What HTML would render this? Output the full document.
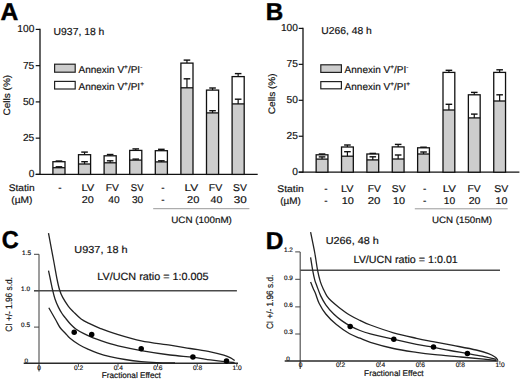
<!DOCTYPE html>
<html><head><meta charset="utf-8"><style>
html,body{margin:0;padding:0;background:#fff;}
svg{display:block;}
text{font-family:"Liberation Sans", sans-serif;fill:#111;text-rendering:geometricPrecision;stroke:#111;stroke-width:0.18px;}
</style></head><body>
<svg width="520" height="379" viewBox="0 0 520 379">
<rect width="520" height="379" fill="#fff"/>
<text x="0.61" y="19.57" font-size="24.5" font-weight="bold" textLength="17.81" lengthAdjust="spacingAndGlyphs" style="stroke:#000;stroke-width:0.45px;fill:#000">A</text>
<text x="265.71" y="19.57" font-size="24.5" font-weight="bold" textLength="17.47" lengthAdjust="spacingAndGlyphs" style="stroke:#000;stroke-width:0.45px;fill:#000">B</text>
<text x="1.66" y="248.18" font-size="24.5" font-weight="bold" textLength="16.95" lengthAdjust="spacingAndGlyphs" style="stroke:#000;stroke-width:0.45px;fill:#000">C</text>
<text x="265.78" y="249.47" font-size="24.5" font-weight="bold" textLength="17.72" lengthAdjust="spacingAndGlyphs" style="stroke:#000;stroke-width:0.45px;fill:#000">D</text>
<line x1="40.00" y1="28.80" x2="40.00" y2="175.00" stroke="#111" stroke-width="1.3"/>
<line x1="35.70" y1="174.40" x2="40.00" y2="174.40" stroke="#111" stroke-width="1.2"/>
<text x="34.30" y="177.40" font-size="10.2" text-anchor="end" font-weight="normal" >0</text>
<line x1="35.70" y1="138.15" x2="40.00" y2="138.15" stroke="#111" stroke-width="1.2"/>
<text x="34.30" y="141.15" font-size="10.2" text-anchor="end" font-weight="normal" >25</text>
<line x1="35.70" y1="101.90" x2="40.00" y2="101.90" stroke="#111" stroke-width="1.2"/>
<text x="34.30" y="104.90" font-size="10.2" text-anchor="end" font-weight="normal" >50</text>
<line x1="35.70" y1="65.65" x2="40.00" y2="65.65" stroke="#111" stroke-width="1.2"/>
<text x="34.30" y="68.65" font-size="10.2" text-anchor="end" font-weight="normal" >75</text>
<line x1="35.70" y1="29.40" x2="40.00" y2="29.40" stroke="#111" stroke-width="1.2"/>
<text x="34.30" y="32.40" font-size="10.2" text-anchor="end" font-weight="normal" >100</text>
<line x1="35.70" y1="174.40" x2="257.70" y2="174.40" stroke="#111" stroke-width="1.3"/>
<rect x="52.90" y="167.70" width="12.10" height="6.70" fill="#cdcdcd"/>
<rect x="52.90" y="161.70" width="12.10" height="12.70" fill="none" stroke="#111" stroke-width="1.3"/>
<line x1="52.90" y1="167.70" x2="65.00" y2="167.70" stroke="#111" stroke-width="1.3"/>
<line x1="58.95" y1="161.70" x2="58.95" y2="161.00" stroke="#111" stroke-width="1.2"/>
<line x1="55.65" y1="161.00" x2="62.25" y2="161.00" stroke="#111" stroke-width="1.4"/>
<line x1="58.95" y1="167.70" x2="58.95" y2="166.80" stroke="#111" stroke-width="1.2"/>
<line x1="55.65" y1="166.80" x2="62.25" y2="166.80" stroke="#111" stroke-width="1.4"/>
<rect x="78.50" y="164.00" width="12.10" height="10.40" fill="#cdcdcd"/>
<rect x="78.50" y="154.70" width="12.10" height="19.70" fill="none" stroke="#111" stroke-width="1.3"/>
<line x1="78.50" y1="164.00" x2="90.60" y2="164.00" stroke="#111" stroke-width="1.3"/>
<line x1="84.55" y1="154.70" x2="84.55" y2="152.10" stroke="#111" stroke-width="1.2"/>
<line x1="81.25" y1="152.10" x2="87.85" y2="152.10" stroke="#111" stroke-width="1.4"/>
<line x1="84.55" y1="164.00" x2="84.55" y2="161.70" stroke="#111" stroke-width="1.2"/>
<line x1="81.25" y1="161.70" x2="87.85" y2="161.70" stroke="#111" stroke-width="1.4"/>
<rect x="104.10" y="162.80" width="12.10" height="11.60" fill="#cdcdcd"/>
<rect x="104.10" y="155.80" width="12.10" height="18.60" fill="none" stroke="#111" stroke-width="1.3"/>
<line x1="104.10" y1="162.80" x2="116.20" y2="162.80" stroke="#111" stroke-width="1.3"/>
<line x1="110.15" y1="155.80" x2="110.15" y2="154.50" stroke="#111" stroke-width="1.2"/>
<line x1="106.85" y1="154.50" x2="113.45" y2="154.50" stroke="#111" stroke-width="1.4"/>
<line x1="110.15" y1="162.80" x2="110.15" y2="160.80" stroke="#111" stroke-width="1.2"/>
<line x1="106.85" y1="160.80" x2="113.45" y2="160.80" stroke="#111" stroke-width="1.4"/>
<rect x="129.70" y="160.10" width="12.10" height="14.30" fill="#cdcdcd"/>
<rect x="129.70" y="150.40" width="12.10" height="24.00" fill="none" stroke="#111" stroke-width="1.3"/>
<line x1="129.70" y1="160.10" x2="141.80" y2="160.10" stroke="#111" stroke-width="1.3"/>
<line x1="135.75" y1="150.40" x2="135.75" y2="148.90" stroke="#111" stroke-width="1.2"/>
<line x1="132.45" y1="148.90" x2="139.05" y2="148.90" stroke="#111" stroke-width="1.4"/>
<line x1="135.75" y1="160.10" x2="135.75" y2="159.10" stroke="#111" stroke-width="1.2"/>
<line x1="132.45" y1="159.10" x2="139.05" y2="159.10" stroke="#111" stroke-width="1.4"/>
<rect x="155.30" y="161.90" width="12.10" height="12.50" fill="#cdcdcd"/>
<rect x="155.30" y="150.70" width="12.10" height="23.70" fill="none" stroke="#111" stroke-width="1.3"/>
<line x1="155.30" y1="161.90" x2="167.40" y2="161.90" stroke="#111" stroke-width="1.3"/>
<line x1="161.35" y1="150.70" x2="161.35" y2="149.30" stroke="#111" stroke-width="1.2"/>
<line x1="158.05" y1="149.30" x2="164.65" y2="149.30" stroke="#111" stroke-width="1.4"/>
<line x1="161.35" y1="161.90" x2="161.35" y2="160.80" stroke="#111" stroke-width="1.2"/>
<line x1="158.05" y1="160.80" x2="164.65" y2="160.80" stroke="#111" stroke-width="1.4"/>
<rect x="180.90" y="87.80" width="12.10" height="86.60" fill="#cdcdcd"/>
<rect x="180.90" y="63.10" width="12.10" height="111.30" fill="none" stroke="#111" stroke-width="1.3"/>
<line x1="180.90" y1="87.80" x2="193.00" y2="87.80" stroke="#111" stroke-width="1.3"/>
<line x1="186.95" y1="63.10" x2="186.95" y2="60.10" stroke="#111" stroke-width="1.2"/>
<line x1="183.65" y1="60.10" x2="190.25" y2="60.10" stroke="#111" stroke-width="1.4"/>
<line x1="186.95" y1="87.80" x2="186.95" y2="78.80" stroke="#111" stroke-width="1.2"/>
<line x1="183.65" y1="78.80" x2="190.25" y2="78.80" stroke="#111" stroke-width="1.4"/>
<rect x="206.50" y="112.90" width="12.10" height="61.50" fill="#cdcdcd"/>
<rect x="206.50" y="90.10" width="12.10" height="84.30" fill="none" stroke="#111" stroke-width="1.3"/>
<line x1="206.50" y1="112.90" x2="218.60" y2="112.90" stroke="#111" stroke-width="1.3"/>
<line x1="212.55" y1="90.10" x2="212.55" y2="88.00" stroke="#111" stroke-width="1.2"/>
<line x1="209.25" y1="88.00" x2="215.85" y2="88.00" stroke="#111" stroke-width="1.4"/>
<line x1="212.55" y1="112.90" x2="212.55" y2="110.70" stroke="#111" stroke-width="1.2"/>
<line x1="209.25" y1="110.70" x2="215.85" y2="110.70" stroke="#111" stroke-width="1.4"/>
<rect x="232.10" y="103.90" width="12.10" height="70.50" fill="#cdcdcd"/>
<rect x="232.10" y="76.60" width="12.10" height="97.80" fill="none" stroke="#111" stroke-width="1.3"/>
<line x1="232.10" y1="103.90" x2="244.20" y2="103.90" stroke="#111" stroke-width="1.3"/>
<line x1="238.15" y1="76.60" x2="238.15" y2="73.60" stroke="#111" stroke-width="1.2"/>
<line x1="234.85" y1="73.60" x2="241.45" y2="73.60" stroke="#111" stroke-width="1.4"/>
<line x1="238.15" y1="103.90" x2="238.15" y2="99.20" stroke="#111" stroke-width="1.2"/>
<line x1="234.85" y1="99.20" x2="241.45" y2="99.20" stroke="#111" stroke-width="1.4"/>
<text x="53.60" y="34.70" font-size="10.2" font-weight="normal" textLength="50.77" lengthAdjust="spacingAndGlyphs">U937, 18 h</text>
<rect x="54.60" y="64.20" width="20.6" height="8.00" fill="#cdcdcd" stroke="#222" stroke-width="1.2"/>
<rect x="54.60" y="81.40" width="20.6" height="7.60" fill="#fff" stroke="#222" stroke-width="1.2"/>
<text x="78.50" y="72.80" font-size="10" text-anchor="start" font-weight="normal" >Annexin V<tspan font-size="6.5" dy="-4">+</tspan><tspan dy="4">/PI</tspan><tspan font-size="6.5" dy="-4">-</tspan></text>
<text x="78.50" y="89.70" font-size="10" text-anchor="start" font-weight="normal" >Annexin V<tspan font-size="6.5" dy="-4">+</tspan><tspan dy="4">/PI</tspan><tspan font-size="6.5" dy="-4">+</tspan></text>
<line x1="303.00" y1="27.80" x2="303.00" y2="172.80" stroke="#111" stroke-width="1.3"/>
<line x1="298.70" y1="172.20" x2="303.00" y2="172.20" stroke="#111" stroke-width="1.2"/>
<text x="297.90" y="175.20" font-size="10.2" text-anchor="end" font-weight="normal" >0</text>
<line x1="298.70" y1="136.25" x2="303.00" y2="136.25" stroke="#111" stroke-width="1.2"/>
<text x="297.90" y="139.25" font-size="10.2" text-anchor="end" font-weight="normal" >25</text>
<line x1="298.70" y1="100.30" x2="303.00" y2="100.30" stroke="#111" stroke-width="1.2"/>
<text x="297.90" y="103.30" font-size="10.2" text-anchor="end" font-weight="normal" >50</text>
<line x1="298.70" y1="64.35" x2="303.00" y2="64.35" stroke="#111" stroke-width="1.2"/>
<text x="297.90" y="67.35" font-size="10.2" text-anchor="end" font-weight="normal" >75</text>
<line x1="298.70" y1="28.40" x2="303.00" y2="28.40" stroke="#111" stroke-width="1.2"/>
<text x="297.90" y="31.40" font-size="10.2" text-anchor="end" font-weight="normal" >100</text>
<line x1="298.70" y1="172.20" x2="519.40" y2="172.20" stroke="#111" stroke-width="1.3"/>
<rect x="316.15" y="159.10" width="11.80" height="13.10" fill="#cdcdcd"/>
<rect x="316.15" y="154.80" width="11.80" height="17.40" fill="none" stroke="#111" stroke-width="1.3"/>
<line x1="316.15" y1="159.10" x2="327.95" y2="159.10" stroke="#111" stroke-width="1.3"/>
<line x1="322.05" y1="154.80" x2="322.05" y2="154.00" stroke="#111" stroke-width="1.2"/>
<line x1="318.75" y1="154.00" x2="325.35" y2="154.00" stroke="#111" stroke-width="1.4"/>
<line x1="322.05" y1="159.10" x2="322.05" y2="156.90" stroke="#111" stroke-width="1.2"/>
<line x1="318.75" y1="156.90" x2="325.35" y2="156.90" stroke="#111" stroke-width="1.4"/>
<rect x="341.52" y="156.20" width="11.80" height="16.00" fill="#cdcdcd"/>
<rect x="341.52" y="147.00" width="11.80" height="25.20" fill="none" stroke="#111" stroke-width="1.3"/>
<line x1="341.52" y1="156.20" x2="353.32" y2="156.20" stroke="#111" stroke-width="1.3"/>
<line x1="347.42" y1="147.00" x2="347.42" y2="145.00" stroke="#111" stroke-width="1.2"/>
<line x1="344.12" y1="145.00" x2="350.72" y2="145.00" stroke="#111" stroke-width="1.4"/>
<line x1="347.42" y1="156.20" x2="347.42" y2="151.70" stroke="#111" stroke-width="1.2"/>
<line x1="344.12" y1="151.70" x2="350.72" y2="151.70" stroke="#111" stroke-width="1.4"/>
<rect x="366.89" y="159.90" width="11.80" height="12.30" fill="#cdcdcd"/>
<rect x="366.89" y="154.00" width="11.80" height="18.20" fill="none" stroke="#111" stroke-width="1.3"/>
<line x1="366.89" y1="159.90" x2="378.69" y2="159.90" stroke="#111" stroke-width="1.3"/>
<line x1="372.79" y1="154.00" x2="372.79" y2="153.40" stroke="#111" stroke-width="1.2"/>
<line x1="369.49" y1="153.40" x2="376.09" y2="153.40" stroke="#111" stroke-width="1.4"/>
<line x1="372.79" y1="159.90" x2="372.79" y2="156.80" stroke="#111" stroke-width="1.2"/>
<line x1="369.49" y1="156.80" x2="376.09" y2="156.80" stroke="#111" stroke-width="1.4"/>
<rect x="392.26" y="159.00" width="11.80" height="13.20" fill="#cdcdcd"/>
<rect x="392.26" y="146.90" width="11.80" height="25.30" fill="none" stroke="#111" stroke-width="1.3"/>
<line x1="392.26" y1="159.00" x2="404.06" y2="159.00" stroke="#111" stroke-width="1.3"/>
<line x1="398.16" y1="146.90" x2="398.16" y2="144.40" stroke="#111" stroke-width="1.2"/>
<line x1="394.86" y1="144.40" x2="401.46" y2="144.40" stroke="#111" stroke-width="1.4"/>
<line x1="398.16" y1="159.00" x2="398.16" y2="155.00" stroke="#111" stroke-width="1.2"/>
<line x1="394.86" y1="155.00" x2="401.46" y2="155.00" stroke="#111" stroke-width="1.4"/>
<rect x="417.63" y="154.00" width="11.80" height="18.20" fill="#cdcdcd"/>
<rect x="417.63" y="147.80" width="11.80" height="24.40" fill="none" stroke="#111" stroke-width="1.3"/>
<line x1="417.63" y1="154.00" x2="429.43" y2="154.00" stroke="#111" stroke-width="1.3"/>
<line x1="423.53" y1="147.80" x2="423.53" y2="147.20" stroke="#111" stroke-width="1.2"/>
<line x1="420.23" y1="147.20" x2="426.83" y2="147.20" stroke="#111" stroke-width="1.4"/>
<line x1="423.53" y1="154.00" x2="423.53" y2="152.00" stroke="#111" stroke-width="1.2"/>
<line x1="420.23" y1="152.00" x2="426.83" y2="152.00" stroke="#111" stroke-width="1.4"/>
<rect x="443.00" y="110.00" width="11.80" height="62.20" fill="#cdcdcd"/>
<rect x="443.00" y="72.40" width="11.80" height="99.80" fill="none" stroke="#111" stroke-width="1.3"/>
<line x1="443.00" y1="110.00" x2="454.80" y2="110.00" stroke="#111" stroke-width="1.3"/>
<line x1="448.90" y1="72.40" x2="448.90" y2="70.30" stroke="#111" stroke-width="1.2"/>
<line x1="445.60" y1="70.30" x2="452.20" y2="70.30" stroke="#111" stroke-width="1.4"/>
<line x1="448.90" y1="110.00" x2="448.90" y2="104.30" stroke="#111" stroke-width="1.2"/>
<line x1="445.60" y1="104.30" x2="452.20" y2="104.30" stroke="#111" stroke-width="1.4"/>
<rect x="468.37" y="117.90" width="11.80" height="54.30" fill="#cdcdcd"/>
<rect x="468.37" y="94.80" width="11.80" height="77.40" fill="none" stroke="#111" stroke-width="1.3"/>
<line x1="468.37" y1="117.90" x2="480.17" y2="117.90" stroke="#111" stroke-width="1.3"/>
<line x1="474.27" y1="94.80" x2="474.27" y2="92.40" stroke="#111" stroke-width="1.2"/>
<line x1="470.97" y1="92.40" x2="477.57" y2="92.40" stroke="#111" stroke-width="1.4"/>
<line x1="474.27" y1="117.90" x2="474.27" y2="114.10" stroke="#111" stroke-width="1.2"/>
<line x1="470.97" y1="114.10" x2="477.57" y2="114.10" stroke="#111" stroke-width="1.4"/>
<rect x="493.74" y="101.00" width="11.80" height="71.20" fill="#cdcdcd"/>
<rect x="493.74" y="72.40" width="11.80" height="99.80" fill="none" stroke="#111" stroke-width="1.3"/>
<line x1="493.74" y1="101.00" x2="505.54" y2="101.00" stroke="#111" stroke-width="1.3"/>
<line x1="499.64" y1="72.40" x2="499.64" y2="69.80" stroke="#111" stroke-width="1.2"/>
<line x1="496.34" y1="69.80" x2="502.94" y2="69.80" stroke="#111" stroke-width="1.4"/>
<line x1="499.64" y1="101.00" x2="499.64" y2="94.80" stroke="#111" stroke-width="1.2"/>
<line x1="496.34" y1="94.80" x2="502.94" y2="94.80" stroke="#111" stroke-width="1.4"/>
<text x="321.20" y="33.90" font-size="10.0" font-weight="normal" textLength="50.57" lengthAdjust="spacingAndGlyphs">U266, 48 h</text>
<rect x="320.80" y="64.80" width="20.6" height="7.60" fill="#cdcdcd" stroke="#222" stroke-width="1.2"/>
<rect x="320.80" y="81.60" width="20.6" height="7.20" fill="#fff" stroke="#222" stroke-width="1.2"/>
<text x="344.60" y="72.90" font-size="10" text-anchor="start" font-weight="normal" >Annexin V<tspan font-size="6.5" dy="-4">+</tspan><tspan dy="4">/PI</tspan><tspan font-size="6.5" dy="-4">-</tspan></text>
<text x="344.60" y="89.80" font-size="10" text-anchor="start" font-weight="normal" >Annexin V<tspan font-size="6.5" dy="-4">+</tspan><tspan dy="4">/PI</tspan><tspan font-size="6.5" dy="-4">+</tspan></text>
<text transform="translate(10.00,115.00) rotate(-90)" x="-0.51" y="0" font-size="9.4" textLength="40.63" lengthAdjust="spacingAndGlyphs">Cells (%)</text>
<text transform="translate(274.60,113.70) rotate(-90)" x="-0.51" y="0" font-size="9.4" textLength="40.84" lengthAdjust="spacingAndGlyphs">Cells (%)</text>
<text x="8.74" y="190.90" font-size="9.7" font-weight="normal" textLength="26.02" lengthAdjust="spacingAndGlyphs">Statin</text>
<text x="11.26" y="203.00" font-size="9.6" font-weight="normal" textLength="21.27" lengthAdjust="spacingAndGlyphs">(µM)</text>
<text x="59.90" y="191.10" font-size="10" text-anchor="middle" font-weight="normal" >-</text>
<text x="81.43" y="191.10" font-size="9.85" font-weight="normal" textLength="12.91" lengthAdjust="spacingAndGlyphs">LV</text>
<text x="105.75" y="191.10" font-size="9.85" font-weight="normal" textLength="13.19" lengthAdjust="spacingAndGlyphs">FV</text>
<text x="130.77" y="191.10" font-size="9.85" font-weight="normal" textLength="12.78" lengthAdjust="spacingAndGlyphs">SV</text>
<text x="163.00" y="191.10" font-size="10" text-anchor="middle" font-weight="normal" >-</text>
<text x="184.58" y="191.10" font-size="9.85" font-weight="normal" textLength="13.67" lengthAdjust="spacingAndGlyphs">LV</text>
<text x="208.83" y="191.10" font-size="9.85" font-weight="normal" textLength="13.51" lengthAdjust="spacingAndGlyphs">FV</text>
<text x="233.13" y="191.10" font-size="9.85" font-weight="normal" textLength="13.82" lengthAdjust="spacingAndGlyphs">SV</text>
<text x="81.75" y="203.40" font-size="9.85" font-weight="normal" textLength="12.07" lengthAdjust="spacingAndGlyphs">20</text>
<text x="108.27" y="203.40" font-size="9.85" font-weight="normal" textLength="11.33" lengthAdjust="spacingAndGlyphs">40</text>
<text x="131.91" y="203.40" font-size="9.85" font-weight="normal" textLength="11.28" lengthAdjust="spacingAndGlyphs">30</text>
<text x="163.00" y="203.40" font-size="10" text-anchor="middle" font-weight="normal" >-</text>
<text x="187.14" y="203.40" font-size="9.85" font-weight="normal" textLength="12.29" lengthAdjust="spacingAndGlyphs">20</text>
<text x="210.46" y="203.40" font-size="9.85" font-weight="normal" textLength="11.86" lengthAdjust="spacingAndGlyphs">40</text>
<text x="233.75" y="203.40" font-size="9.85" font-weight="normal" textLength="13.00" lengthAdjust="spacingAndGlyphs">30</text>
<line x1="153.20" y1="208.70" x2="249.40" y2="208.70" stroke="#999" stroke-width="1.0"/>
<text x="171.24" y="222.50" font-size="9.2" font-weight="normal" textLength="60.67" lengthAdjust="spacingAndGlyphs">UCN (100nM)</text>
<text x="277.33" y="191.90" font-size="9.7" font-weight="normal" textLength="26.44" lengthAdjust="spacingAndGlyphs">Statin</text>
<text x="280.18" y="203.50" font-size="9.6" font-weight="normal" textLength="20.63" lengthAdjust="spacingAndGlyphs">(µM)</text>
<text x="325.80" y="191.70" font-size="10" text-anchor="middle" font-weight="normal" >-</text>
<text x="341.06" y="191.70" font-size="9.85" font-weight="normal" textLength="12.48" lengthAdjust="spacingAndGlyphs">LV</text>
<text x="367.75" y="191.70" font-size="9.85" font-weight="normal" textLength="13.19" lengthAdjust="spacingAndGlyphs">FV</text>
<text x="391.83" y="191.70" font-size="9.85" font-weight="normal" textLength="13.71" lengthAdjust="spacingAndGlyphs">SV</text>
<text x="424.60" y="191.70" font-size="10" text-anchor="middle" font-weight="normal" >-</text>
<text x="442.81" y="191.70" font-size="9.85" font-weight="normal" textLength="13.24" lengthAdjust="spacingAndGlyphs">LV</text>
<text x="467.45" y="191.70" font-size="9.85" font-weight="normal" textLength="13.19" lengthAdjust="spacingAndGlyphs">FV</text>
<text x="494.32" y="191.70" font-size="9.85" font-weight="normal" textLength="14.02" lengthAdjust="spacingAndGlyphs">SV</text>
<text x="325.80" y="203.80" font-size="10" text-anchor="middle" font-weight="normal" >-</text>
<text x="341.77" y="203.80" font-size="9.85" font-weight="normal" textLength="12.16" lengthAdjust="spacingAndGlyphs">10</text>
<text x="367.72" y="203.80" font-size="9.85" font-weight="normal" textLength="12.72" lengthAdjust="spacingAndGlyphs">20</text>
<text x="392.97" y="203.80" font-size="9.85" font-weight="normal" textLength="12.05" lengthAdjust="spacingAndGlyphs">10</text>
<text x="424.60" y="203.80" font-size="10" text-anchor="middle" font-weight="normal" >-</text>
<text x="443.82" y="203.80" font-size="9.85" font-weight="normal" textLength="11.38" lengthAdjust="spacingAndGlyphs">10</text>
<text x="468.67" y="203.80" font-size="9.85" font-weight="normal" textLength="11.74" lengthAdjust="spacingAndGlyphs">20</text>
<text x="495.48" y="203.80" font-size="9.85" font-weight="normal" textLength="11.94" lengthAdjust="spacingAndGlyphs">10</text>
<line x1="414.80" y1="208.80" x2="507.70" y2="208.80" stroke="#999" stroke-width="1.0"/>
<text x="431.95" y="222.80" font-size="9.2" font-weight="normal" textLength="60.16" lengthAdjust="spacingAndGlyphs">UCN (150nM)</text>
<line x1="39.00" y1="254.30" x2="39.00" y2="371.50" stroke="#858585" stroke-width="1.6"/>
<line x1="34.00" y1="254.30" x2="39.00" y2="254.30" stroke="#444" stroke-width="1.0"/>
<text x="31.00" y="254.50" font-size="6.4" text-anchor="end" font-weight="normal" >1.5</text>
<line x1="34.00" y1="290.70" x2="39.00" y2="290.70" stroke="#444" stroke-width="1.0"/>
<text x="30.00" y="290.90" font-size="6.4" text-anchor="end" font-weight="normal" >1.0</text>
<line x1="34.00" y1="327.10" x2="39.00" y2="327.10" stroke="#444" stroke-width="1.0"/>
<text x="30.00" y="327.30" font-size="6.4" text-anchor="end" font-weight="normal" >0.5</text>
<text x="28.00" y="363.40" font-size="6.4" text-anchor="end" font-weight="normal" >0</text>
<line x1="34.00" y1="290.80" x2="236.90" y2="290.80" stroke="#4a4a4a" stroke-width="1.45"/>
<line x1="23.70" y1="363.20" x2="238.00" y2="363.20" stroke="#2a2a2a" stroke-width="1.4"/>
<text x="39.10" y="369.60" font-size="6.6" text-anchor="middle" font-weight="normal" >0</text>
<line x1="78.40" y1="363.20" x2="78.40" y2="366.80" stroke="#333" stroke-width="0.9"/>
<text x="78.70" y="369.60" font-size="6.6" text-anchor="middle" font-weight="normal" >0.2</text>
<line x1="118.00" y1="363.20" x2="118.00" y2="366.80" stroke="#333" stroke-width="0.9"/>
<text x="118.30" y="369.60" font-size="6.6" text-anchor="middle" font-weight="normal" >0.4</text>
<line x1="157.60" y1="363.20" x2="157.60" y2="366.80" stroke="#333" stroke-width="0.9"/>
<text x="157.90" y="369.60" font-size="6.6" text-anchor="middle" font-weight="normal" >0.6</text>
<line x1="197.20" y1="363.20" x2="197.20" y2="366.80" stroke="#333" stroke-width="0.9"/>
<text x="197.50" y="369.60" font-size="6.6" text-anchor="middle" font-weight="normal" >0.8</text>
<line x1="236.80" y1="363.20" x2="236.80" y2="366.80" stroke="#333" stroke-width="0.9"/>
<text x="237.10" y="369.60" font-size="6.6" text-anchor="middle" font-weight="normal" >1.0</text>
<path d="M48.50,233.20 C49.38,237.92 52.37,253.78 53.80,261.50 C55.23,269.22 56.13,274.75 57.10,279.50 C58.07,284.25 58.67,287.02 59.60,290.00 C60.53,292.98 61.23,294.68 62.70,297.40 C64.17,300.12 66.57,303.85 68.40,306.30 C70.23,308.75 71.58,309.98 73.70,312.10 C75.82,314.22 78.45,317.07 81.10,319.00 C83.75,320.93 86.45,322.15 89.60,323.70 C92.75,325.25 95.77,326.65 100.00,328.30 C104.23,329.95 108.13,331.52 115.00,333.60 C121.87,335.68 132.03,338.88 141.20,340.80 C150.37,342.72 161.83,343.82 170.00,345.10 C178.17,346.38 183.47,347.38 190.20,348.50 C196.93,349.62 204.80,350.68 210.40,351.80 C216.00,352.92 220.43,354.18 223.80,355.20 C227.17,356.22 228.80,357.00 230.60,357.90 C232.40,358.80 233.93,360.15 234.60,360.60" fill="none" stroke="#222" stroke-width="1.3"/>
<path d="M48.50,270.60 C48.83,272.17 49.82,276.77 50.50,280.00 C51.18,283.23 51.85,286.83 52.60,290.00 C53.35,293.17 54.02,296.10 55.00,299.00 C55.98,301.90 57.33,304.98 58.50,307.40 C59.67,309.82 60.87,311.75 62.00,313.50 C63.13,315.25 63.87,316.10 65.30,317.90 C66.73,319.70 68.85,322.45 70.60,324.30 C72.35,326.15 73.58,327.43 75.80,329.00 C78.02,330.57 81.02,332.22 83.90,333.70 C86.78,335.18 90.03,336.67 93.10,337.90 C96.17,339.13 99.48,340.15 102.30,341.10 C105.12,342.05 107.37,342.80 110.00,343.60 C112.63,344.40 112.90,344.73 118.10,345.90 C123.30,347.07 132.55,349.08 141.20,350.60 C149.85,352.12 161.38,353.90 170.00,355.00 C178.62,356.10 186.17,356.38 192.90,357.20 C199.63,358.02 204.80,359.12 210.40,359.90 C216.00,360.68 222.47,361.45 226.50,361.90 C230.53,362.35 233.25,362.48 234.60,362.60" fill="none" stroke="#222" stroke-width="1.3"/>
<path d="M48.80,307.80 C49.97,309.83 53.93,316.72 55.80,320.00 C57.67,323.28 58.42,325.30 60.00,327.50 C61.58,329.70 63.63,331.40 65.30,333.20 C66.97,335.00 67.68,336.37 70.00,338.30 C72.32,340.23 76.12,342.95 79.20,344.80 C82.28,346.65 85.42,348.02 88.50,349.40 C91.58,350.78 94.12,351.90 97.70,353.10 C101.28,354.30 105.45,355.53 110.00,356.60 C114.55,357.67 119.80,358.67 125.00,359.50 C130.20,360.33 135.95,361.08 141.20,361.60 C146.45,362.12 150.87,362.37 156.50,362.60 C162.13,362.83 171.92,362.93 175.00,363.00" fill="none" stroke="#222" stroke-width="1.3"/>
<circle cx="74.20" cy="332.30" r="2.75" fill="#000"/>
<circle cx="91.70" cy="334.50" r="2.75" fill="#000"/>
<circle cx="141.20" cy="348.80" r="2.75" fill="#000"/>
<circle cx="192.90" cy="356.90" r="2.75" fill="#000"/>
<circle cx="226.50" cy="361.10" r="2.75" fill="#000"/>
<text x="74.36" y="252.90" font-size="10.2" font-weight="normal" textLength="53.25" lengthAdjust="spacingAndGlyphs">U937, 18 h</text>
<text x="97.32" y="280.10" font-size="10.5" font-weight="normal" textLength="111.23" lengthAdjust="spacingAndGlyphs">LV/UCN ratio = 1:0.005</text>
<text transform="translate(11.90,331.30) rotate(-90)" x="-0.42" y="0" font-size="9.2" textLength="54.58" lengthAdjust="spacingAndGlyphs">CI +/- 1.96 s.d.</text>
<text x="101.73" y="377.80" font-size="8.2" font-weight="normal" textLength="59.13" lengthAdjust="spacingAndGlyphs">Fractional Effect</text>
<line x1="300.20" y1="251.90" x2="300.20" y2="369.00" stroke="#555" stroke-width="1.2"/>
<line x1="295.20" y1="251.90" x2="300.20" y2="251.90" stroke="#444" stroke-width="1.0"/>
<text x="292.80" y="252.10" font-size="6.4" text-anchor="end" font-weight="normal" >1.2</text>
<line x1="295.20" y1="279.30" x2="300.20" y2="279.30" stroke="#444" stroke-width="1.0"/>
<text x="292.80" y="279.50" font-size="6.4" text-anchor="end" font-weight="normal" >0.9</text>
<line x1="295.20" y1="306.90" x2="300.20" y2="306.90" stroke="#444" stroke-width="1.0"/>
<text x="292.80" y="307.10" font-size="6.4" text-anchor="end" font-weight="normal" >0.6</text>
<line x1="295.20" y1="334.00" x2="300.20" y2="334.00" stroke="#444" stroke-width="1.0"/>
<text x="292.80" y="334.20" font-size="6.4" text-anchor="end" font-weight="normal" >0.3</text>
<text x="289.80" y="361.20" font-size="6.4" text-anchor="end" font-weight="normal" >0</text>
<line x1="300.20" y1="270.30" x2="500.00" y2="270.30" stroke="#4a4a4a" stroke-width="1.45"/>
<line x1="284.70" y1="361.00" x2="498.40" y2="361.00" stroke="#2a2a2a" stroke-width="1.4"/>
<text x="300.70" y="367.40" font-size="6.6" text-anchor="middle" font-weight="normal" >0</text>
<line x1="340.30" y1="361.00" x2="340.30" y2="364.60" stroke="#333" stroke-width="0.9"/>
<text x="340.60" y="367.40" font-size="6.6" text-anchor="middle" font-weight="normal" >0.2</text>
<line x1="380.20" y1="361.00" x2="380.20" y2="364.60" stroke="#333" stroke-width="0.9"/>
<text x="380.50" y="367.40" font-size="6.6" text-anchor="middle" font-weight="normal" >0.4</text>
<line x1="420.10" y1="361.00" x2="420.10" y2="364.60" stroke="#333" stroke-width="0.9"/>
<text x="420.40" y="367.40" font-size="6.6" text-anchor="middle" font-weight="normal" >0.6</text>
<line x1="460.00" y1="361.00" x2="460.00" y2="364.60" stroke="#333" stroke-width="0.9"/>
<text x="460.30" y="367.40" font-size="6.6" text-anchor="middle" font-weight="normal" >0.8</text>
<line x1="499.90" y1="361.00" x2="499.90" y2="364.60" stroke="#333" stroke-width="0.9"/>
<text x="500.20" y="367.40" font-size="6.6" text-anchor="middle" font-weight="normal" >1.0</text>
<path d="M310.60,232.10 C311.28,235.50 313.53,246.12 314.70,252.50 C315.87,258.88 316.65,265.50 317.60,270.40 C318.55,275.30 319.38,278.65 320.40,281.90 C321.42,285.15 322.63,287.58 323.70,289.90 C324.77,292.22 325.57,293.98 326.80,295.80 C328.03,297.62 329.07,298.87 331.10,300.80 C333.13,302.73 335.92,305.03 339.00,307.40 C342.08,309.77 346.10,312.83 349.60,315.00 C353.10,317.17 356.53,318.73 360.00,320.40 C363.47,322.07 364.82,322.93 370.40,325.00 C375.98,327.07 385.82,330.58 393.50,332.80 C401.18,335.02 409.92,336.83 416.50,338.30 C423.08,339.77 426.90,340.42 433.00,341.60 C439.10,342.78 445.90,344.00 453.10,345.40 C460.30,346.80 470.30,348.63 476.20,350.00 C482.10,351.37 485.30,352.40 488.50,353.60 C491.70,354.80 493.87,356.10 495.40,357.20 C496.93,358.30 497.32,359.70 497.70,360.20" fill="none" stroke="#222" stroke-width="1.3"/>
<path d="M310.60,257.40 C310.95,259.57 312.00,266.60 312.70,270.40 C313.40,274.20 314.13,277.68 314.80,280.20 C315.47,282.72 315.73,282.93 316.70,285.50 C317.67,288.07 319.08,292.38 320.60,295.60 C322.12,298.82 323.62,301.73 325.80,304.80 C327.98,307.87 331.05,311.37 333.70,314.00 C336.35,316.63 339.05,318.67 341.70,320.60 C344.35,322.53 346.55,323.95 349.60,325.60 C352.65,327.25 356.53,329.13 360.00,330.50 C363.47,331.87 364.82,332.35 370.40,333.80 C375.98,335.25 385.82,337.45 393.50,339.20 C401.18,340.95 409.92,342.97 416.50,344.30 C423.08,345.63 427.42,346.17 433.00,347.20 C438.58,348.23 444.35,349.47 450.00,350.50 C455.65,351.53 461.52,352.45 466.90,353.40 C472.28,354.35 477.42,355.20 482.30,356.20 C487.18,357.20 493.88,358.87 496.20,359.40" fill="none" stroke="#222" stroke-width="1.3"/>
<path d="M310.60,281.90 C311.03,283.00 312.38,286.57 313.20,288.50 C314.02,290.43 314.50,291.00 315.50,293.50 C316.50,296.00 317.48,300.08 319.20,303.50 C320.92,306.92 322.93,310.48 325.80,314.00 C328.67,317.52 332.43,321.30 336.40,324.60 C340.37,327.90 345.67,331.53 349.60,333.80 C353.53,336.07 356.53,336.78 360.00,338.20 C363.47,339.62 364.82,340.58 370.40,342.30 C375.98,344.02 385.82,346.83 393.50,348.50 C401.18,350.17 409.58,351.28 416.50,352.30 C423.42,353.32 427.62,353.82 435.00,354.60 C442.38,355.38 452.67,356.23 460.80,357.00 C468.93,357.77 477.90,358.62 483.80,359.20 C489.70,359.78 494.13,360.28 496.20,360.50" fill="none" stroke="#222" stroke-width="1.3"/>
<circle cx="350.20" cy="326.60" r="2.75" fill="#000"/>
<circle cx="393.80" cy="339.20" r="2.75" fill="#000"/>
<circle cx="433.50" cy="346.90" r="2.75" fill="#000"/>
<circle cx="467.40" cy="353.40" r="2.75" fill="#000"/>
<text x="325.77" y="243.50" font-size="10.2" font-weight="normal" textLength="52.94" lengthAdjust="spacingAndGlyphs">U266, 48 h</text>
<text x="353.53" y="262.90" font-size="10.5" font-weight="normal" textLength="104.29" lengthAdjust="spacingAndGlyphs">LV/UCN ratio = 1:0.01</text>
<text transform="translate(272.90,328.70) rotate(-90)" x="-0.42" y="0" font-size="9.2" textLength="54.37" lengthAdjust="spacingAndGlyphs">CI +/- 1.96 s.d.</text>
<text x="364.13" y="375.80" font-size="8.2" font-weight="normal" textLength="59.44" lengthAdjust="spacingAndGlyphs">Fractional Effect</text>
</svg>
</body></html>
